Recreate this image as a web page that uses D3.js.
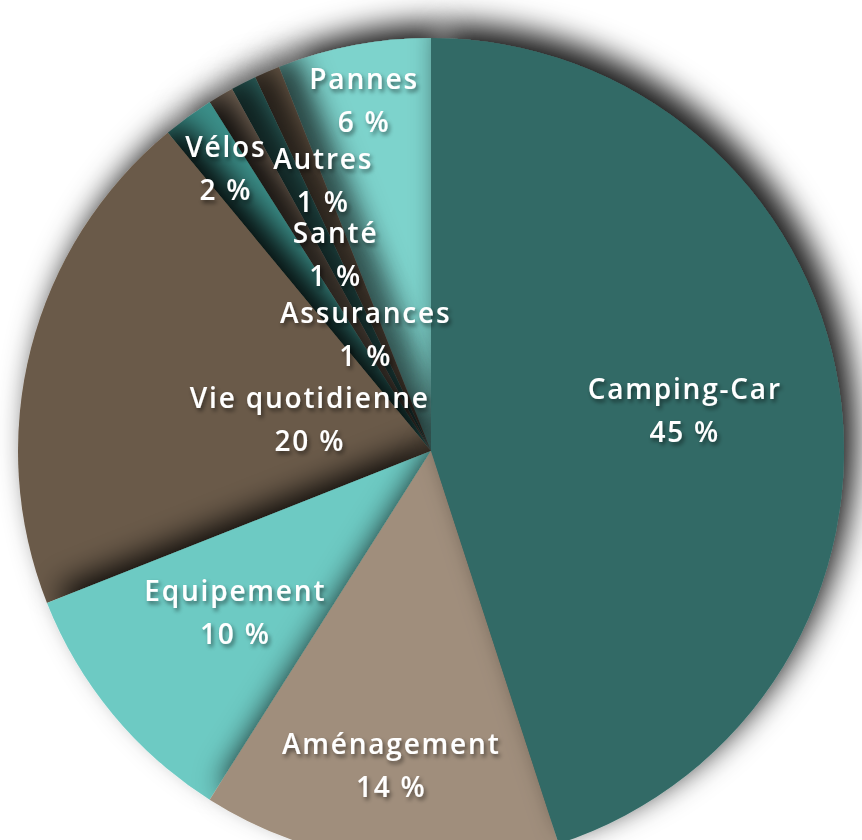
<!DOCTYPE html>
<html>
<head>
<meta charset="utf-8">
<script src="https://cdn.jsdelivr.net/npm/d3@7"></script>
<style>
  html, body { margin: 0; padding: 0; background: #ffffff; }
  svg { display: block; }
</style>
</head>
<body>
<svg id="chart" width="862" height="840"></svg>
<script>
// ---- data ----
const categories = ["Camping-Car", "Aménagement", "Equipement", "Vie quotidienne", "Vélos", "Autres", "Santé", "Assurances", "Pannes"];
const values = [45, 14, 10, 20, 2, 1, 1, 1, 6];
const colors = ["#336a66", "#a08e7b", "#6dcac3", "#6b5a48", "#3b8f89", "#7d6c5b", "#2f6662", "#6e5d4b", "#7dd3cc"];

// ---- layout (label placement, not data) ----
const labelRadiusFrac = [0.622, 0.768, 0.615, 0.303, 0.845, 0.703, 0.527, 0.322, 0.864];
const labelAngleShiftDeg = [0, 0, 0, 0, 0, 8.8, 1, -6, 0];

const W = 862, H = 840;
const cx = 431, cy = 451, R = 413;

const svg = d3.select("#chart");
const defs = svg.append("defs");

// slice drop shadow (user space of the translated group)
const f = defs.append("filter").attr("id", "sliceShadow")
  .attr("filterUnits", "userSpaceOnUse")
  .attr("x", -cx - 100).attr("y", -cy - 100).attr("width", W + 200).attr("height", H + 200);
f.append("feGaussianBlur").attr("in", "SourceAlpha").attr("stdDeviation", 15).attr("result", "blur");
f.append("feOffset").attr("in", "blur").attr("dx", 12).attr("dy", -15).attr("result", "off");
f.append("feFlood").attr("flood-color", "#000").attr("flood-opacity", 0.9).attr("result", "col");
f.append("feComposite").attr("in", "col").attr("in2", "off").attr("operator", "in").attr("result", "shadow");
const m = f.append("feMerge");
m.append("feMergeNode").attr("in", "shadow");
m.append("feMergeNode").attr("in", "SourceGraphic");

// text shadow
const tf = defs.append("filter").attr("id", "textShadow")
  .attr("filterUnits", "userSpaceOnUse")
  .attr("x", -cx - 100).attr("y", -cy - 100).attr("width", W + 200).attr("height", H + 200);
tf.append("feGaussianBlur").attr("in", "SourceAlpha").attr("stdDeviation", 2.2).attr("result", "b");
tf.append("feOffset").attr("in", "b").attr("dx", 2).attr("dy", 3).attr("result", "o");
tf.append("feFlood").attr("flood-color", "#000").attr("flood-opacity", 0.5).attr("result", "c");
tf.append("feComposite").attr("in", "c").attr("in2", "o").attr("operator", "in").attr("result", "s");
const tm = tf.append("feMerge");
tm.append("feMergeNode").attr("in", "s");
tm.append("feMergeNode").attr("in", "SourceGraphic");

const data = categories.map((c, i) => ({ name: c, value: values[i], color: colors[i], idx: i }));

const pie = d3.pie().value(d => d.value).sort(null);
const arcs = pie(data);
const arc = d3.arc().innerRadius(0).outerRadius(R);

const g = svg.append("g").attr("transform", `translate(${cx},${cy})`);

// draw in reverse order so each slice casts shadow on its clockwise neighbour
const drawOrder = arcs.slice().reverse();
g.selectAll("path.slice")
  .data(drawOrder)
  .join("path")
  .attr("class", "slice")
  .attr("d", arc)
  .attr("fill", d => d.data.color)
  .attr("filter", "url(#sliceShadow)");

const total = d3.sum(values);
const labels = g.append("g").attr("filter", "url(#textShadow)");
arcs.forEach(a => {
  const i = a.data.idx;
  const ang = (a.startAngle + a.endAngle) / 2 + labelAngleShiftDeg[i] * Math.PI / 180;
  const r = R * labelRadiusFrac[i];
  const x = r * Math.sin(ang), y = -r * Math.cos(ang);
  const t = labels.append("text")
    .attr("text-anchor", "middle")
    .attr("fill", "#ffffff")
    .attr("font-family", "'Open Sans', 'Noto Sans', sans-serif")
    .attr("font-weight", 600)
    .attr("font-size", 28)
    .attr("letter-spacing", 1.8);
  t.append("tspan").attr("x", x).attr("y", y - 12).text(a.data.name);
  t.append("tspan").attr("x", x).attr("y", y + 31).text(Math.round(a.data.value / total * 100) + " %");
});
</script>
</body>
</html>
